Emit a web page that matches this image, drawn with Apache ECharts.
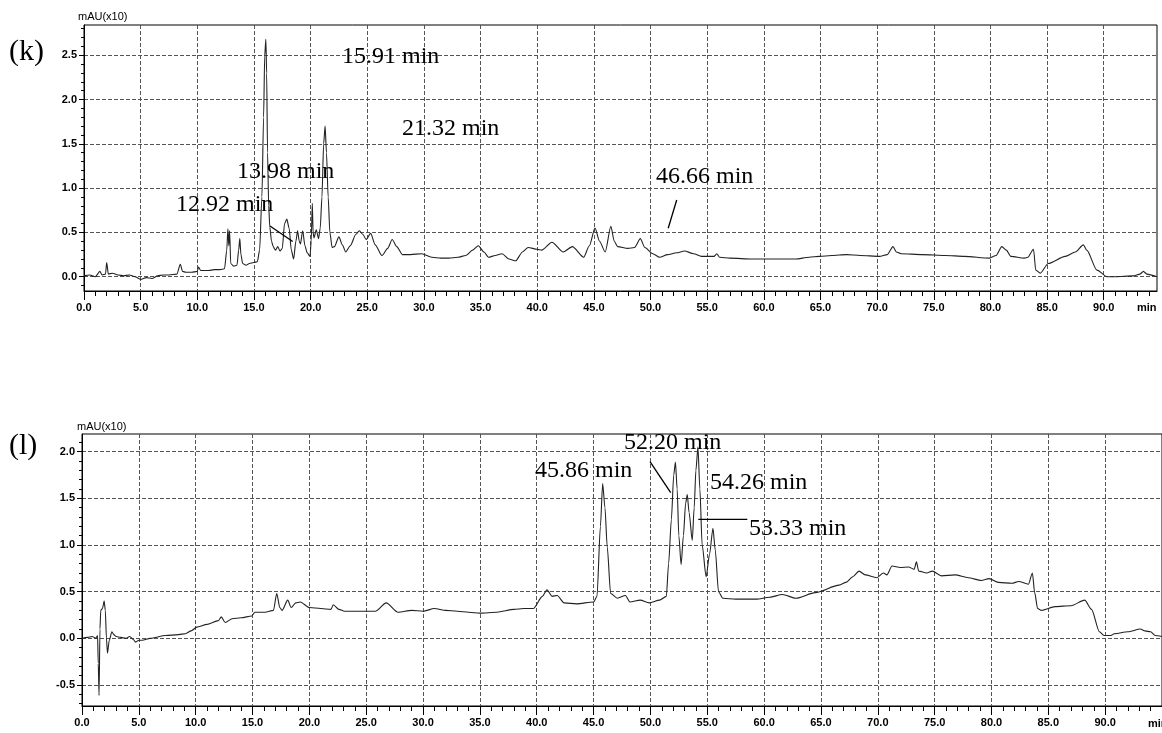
<!DOCTYPE html>
<html><head><meta charset="utf-8">
<script src="https://cdn.jsdelivr.net/npm/echarts@6/dist/echarts.min.js"></script>
<style>html,body{margin:0;padding:0;background:#fff}#c{width:1162px;height:733px}</style>
</head><body><div id="c"></div>
<script>
// ---- chromatogram (k) ----
const kTimes = [0,0.5,1.0,1.4,1.6,1.9,2.0,2.15,2.5,3.0,3.5,4.0,4.5,5.0,5.5,6.0,6.5,7.0,7.5,8.2,8.5,8.7,9.0,9.5,10.0,10.1,10.3,11.0,11.5,12.0,12.4,12.6,12.7,12.78,12.85,12.95,13.2,13.5,13.65,13.75,13.85,14.0,14.3,14.6,15.0,15.3,15.5,15.7,15.85,15.95,16.05,16.12,16.2,16.3,16.4,16.55,16.7,16.9,17.1,17.3,17.5,17.7,17.9,18.1,18.3,18.5,18.7,18.85,19.0,19.1,19.3,19.5,19.7,19.95,20.05,20.15,20.22,20.3,20.5,20.7,20.85,21.0,21.15,21.28,21.4,21.55,21.7,21.9,22.1,22.5,22.8,23.1,23.5,24.0,24.3,24.6,24.9,25.3,25.7,26.3,26.8,27.2,27.6,28.1,28.8,29.8,30.7,31.5,32.2,33.0,33.7,34.3,34.8,35.3,35.7,36.3,36.9,37.5,38.1,38.7,39.2,40.0,40.4,41.3,42.3,43.1,44.1,44.6,45.1,45.5,46.0,46.5,46.8,47.1,48.0,48.6,49.1,49.5,50.2,50.8,51.5,52.3,53.0,53.8,54.5,55.6,55.85,56.1,57.0,59.0,61.0,62.8,64.0,64.9,66.0,67.3,68.5,70.2,70.9,71.4,71.7,72.1,74.0,76.0,77.7,79.9,80.5,81.0,81.4,81.8,83.0,83.3,83.8,84.0,84.4,85.1,86.6,87.5,88.2,88.5,89.4,90.3,91.0,92.6,93.2,93.5,93.8,94.7];
const kValues = [0.01,0.02,0.0,0.06,0.02,0.03,0.16,0.03,0.04,0.02,0.01,0.02,0.0,-0.03,-0.01,-0.02,0.01,0.02,0.02,0.03,0.14,0.06,0.05,0.05,0.06,0.11,0.07,0.07,0.08,0.08,0.09,0.3,0.54,0.35,0.52,0.15,0.12,0.13,0.3,0.43,0.25,0.15,0.13,0.15,0.16,0.17,0.3,0.9,1.8,2.5,2.68,2.3,1.4,0.8,0.56,0.4,0.34,0.30,0.34,0.29,0.32,0.6,0.65,0.55,0.3,0.2,0.4,0.52,0.4,0.37,0.52,0.35,0.27,0.23,0.4,0.83,0.5,0.44,0.53,0.43,0.55,0.9,1.5,1.70,1.4,0.9,0.5,0.33,0.34,0.45,0.36,0.28,0.35,0.48,0.52,0.48,0.42,0.49,0.36,0.24,0.32,0.42,0.34,0.25,0.25,0.26,0.22,0.21,0.21,0.22,0.24,0.3,0.35,0.28,0.22,0.24,0.26,0.2,0.18,0.28,0.33,0.31,0.30,0.39,0.28,0.34,0.22,0.35,0.55,0.4,0.28,0.57,0.4,0.34,0.32,0.33,0.43,0.33,0.26,0.22,0.25,0.27,0.29,0.26,0.23,0.23,0.26,0.22,0.21,0.20,0.20,0.20,0.22,0.23,0.24,0.25,0.24,0.23,0.25,0.34,0.28,0.26,0.25,0.24,0.23,0.21,0.24,0.34,0.30,0.23,0.21,0.22,0.31,0.075,0.04,0.15,0.23,0.28,0.36,0.30,0.075,0.0,0.0,0.01,0.03,0.06,0.03,0.0];
// ---- chromatogram (l) ----
const lTimes = [0,0.5,0.9,1.2,1.37,1.43,1.5,1.58,1.65,1.8,1.95,2.05,2.15,2.24,2.4,2.63,2.8,3.0,3.4,3.85,4.2,4.5,4.72,5.0,5.3,6.0,7.35,8.5,9.1,9.6,10.1,11.0,12.0,12.25,12.6,13.2,14.0,14.94,15.2,16.1,16.84,17.13,17.4,17.6,18.1,18.4,18.8,19.2,20.0,21.0,21.9,22.1,22.6,23.1,24.0,24.9,25.8,26.76,27.8,29.0,30.0,31.0,32.0,33.0,34.0,35.0,36.5,38.0,38.85,39.7,40.5,40.9,41.35,41.8,42.4,43.5,45.0,45.3,45.6,45.8,46.0,46.2,46.5,47.1,47.8,48.2,49.1,49.9,50.8,51.4,51.6,51.84,52.05,52.2,52.35,52.5,52.7,52.9,53.1,53.24,53.4,53.68,53.85,54.0,54.18,54.35,54.55,54.9,55.2,55.5,55.7,55.99,56.37,57.5,59.3,60.5,61.6,62.8,64.5,66.6,67.2,67.8,68.35,68.9,69.9,70.5,70.8,71.25,71.98,72.7,73.2,73.4,73.6,74.3,74.8,75.6,76.8,77.96,79.1,79.8,80.6,81.8,82.4,83.25,83.6,83.8,84.06,84.4,85.6,87.0,88.2,88.8,89.5,89.9,90.5,90.8,92.0,93.1,93.5,94.0,94.4,95];
const lValues = [0.0,0.01,0.02,0.0,0.03,-0.27,-0.61,0.1,0.3,0.32,0.40,0.3,0.0,-0.16,-0.02,0.07,0.04,0.02,0.01,0.0,0.02,-0.01,-0.04,-0.02,-0.02,0.0,0.03,0.04,0.05,0.08,0.12,0.15,0.19,0.23,0.17,0.21,0.22,0.24,0.28,0.28,0.3,0.48,0.33,0.3,0.41,0.33,0.38,0.39,0.33,0.32,0.31,0.36,0.31,0.29,0.29,0.29,0.29,0.38,0.28,0.3,0.29,0.32,0.3,0.29,0.28,0.27,0.28,0.31,0.32,0.32,0.45,0.52,0.45,0.46,0.38,0.37,0.39,0.45,1.2,1.66,1.4,0.98,0.48,0.43,0.46,0.39,0.41,0.38,0.41,0.45,0.8,1.27,1.75,1.89,1.6,1.1,0.79,1.1,1.45,1.54,1.35,1.05,1.4,1.8,2.05,1.6,1.0,0.66,0.9,1.18,0.95,0.5,0.43,0.42,0.42,0.44,0.47,0.43,0.49,0.57,0.60,0.66,0.72,0.68,0.65,0.70,0.68,0.775,0.76,0.765,0.74,0.82,0.72,0.70,0.72,0.67,0.68,0.65,0.62,0.64,0.60,0.59,0.61,0.58,0.70,0.49,0.32,0.30,0.34,0.35,0.41,0.31,0.07,0.03,0.03,0.05,0.07,0.1,0.08,0.07,0.03,0.02];
// ---- tick labels ----
const xMajorTicks = [0,5,10,15,20,25,30,35,40,45,50,55,60,65,70,75,80,85,90];
const kMajorY = [0,0.5,1.0,1.5,2.0,2.5];
const lMajorY = [-0.5,0,0.5,1.0,1.5,2.0];
const yUnit = 'mAU(x10)';
const xUnit = 'min';
// annotation texts
const kPeakLabels = ['15.91 min','21.32 min','13.98 min','12.92 min','46.66 min'];
const lPeakLabels = ['52.20 min','45.86 min','54.26 min','53.33 min'];

function range(a, b, step, skipEvery) {
  const out = [];
  for (let i = Math.round(a/step); i <= Math.round(b/step); i++) {
    const v = +(i*step).toFixed(2);
    if (skipEvery && Math.abs(v/skipEvery - Math.round(v/skipEvery)) < 1e-6) continue;
    out.push(v);
  }
  return out;
}
const kMinorY = range(-0.1, 2.8, 0.1, 0.5);
const lMinorY = range(-0.7, 2.1, 0.1, 0.5);
const xMinor = range(1, 94, 1, 5);

const lab = {color:'#000', fontFamily:'Liberation Sans', fontWeight:'bold', fontSize:11};
const gridLine = {show:true, lineStyle:{color:'#555', type:[4,2], width:1}};

function xAxes(gi, max) {
  return [{
    type:'value', gridIndex:gi, min:0, max:max, interval:5, position:'bottom',
    axisLine:{show:true, onZero:false, lineStyle:{color:'#000', width:1}},
    axisTick:{show:true, length:9, customValues:xMajorTicks, lineStyle:{color:'#000'}},
    axisLabel:Object.assign({margin:11, customValues:xMajorTicks, formatter:v=>v.toFixed(1)}, lab),
    splitLine:gridLine
  },{
    type:'value', gridIndex:gi, min:0, max:max, position:'bottom',
    axisLine:{show:false, onZero:false},
    axisTick:{show:true, length:5, customValues:xMinor, lineStyle:{color:'#000'}},
    axisLabel:{show:false}, splitLine:{show:false}
  }];
}
function yAxes(gi, min, max, major, minor) {
  return [{
    type:'value', gridIndex:gi, min:min, max:max, position:'left',
    axisLine:{show:true, onZero:false, lineStyle:{color:'#000', width:1}},
    axisTick:{show:true, length:5, customValues:major, lineStyle:{color:'#000'}},
    axisLabel:Object.assign({margin:7, customValues:major, formatter:v=>v.toFixed(1)}, lab),
    splitLine:gridLine
  },{
    type:'value', gridIndex:gi, min:min, max:max, position:'left',
    axisLine:{show:false, onZero:false},
    axisTick:{show:true, length:3, customValues:minor, lineStyle:{color:'#000'}},
    axisLabel:{show:false}, splitLine:{show:false}
  }];
}

const serifBig = '30px "Liberation Serif"';
const serif = '24px "Liberation Serif"';
function txt(text, x, y, font) {
  return {type:'text', x:x, y:y, z:100, style:{text:text, font:font, fill:'#000', align:'left', verticalAlign:'middle'}};
}
function ln(x1,y1,x2,y2) {
  return {type:'line', z:100, shape:{x1,y1,x2,y2}, style:{stroke:'#000', lineWidth:1.3}};
}
const unitFont = '11px "Liberation Sans"';

const chart = echarts.init(document.getElementById('c'), null, {renderer:'canvas'});
chart.setOption({
  animation:false,
  backgroundColor:'#fff',
  grid:[
    {left:84, top:25, width:1073, height:266, show:true, borderColor:'#000', borderWidth:1, backgroundColor:'transparent'},
    {left:82, top:434, width:1085, height:272, show:true, borderColor:'#000', borderWidth:1, backgroundColor:'transparent'}
  ],
  xAxis:[].concat(xAxes(0, 94.7), xAxes(1, 95)),
  yAxis:[].concat(yAxes(0, -0.161, 2.842, kMajorY, kMinorY), yAxes(1, -0.725, 2.19, lMajorY, lMinorY)),
  series:[
    {type:'line', xAxisIndex:0, yAxisIndex:0, data:kTimes.map((t,i)=>[t,kValues[i]]), showSymbol:false, symbol:'none', sampling:null,
     smooth:0.25, smoothMonotone:'x', lineStyle:{color:'#222', width:1.1}, clip:true},
    {type:'line', xAxisIndex:2, yAxisIndex:2, data:lTimes.map((t,i)=>[t,lValues[i]]), showSymbol:false, symbol:'none', sampling:null,
     smooth:0.25, smoothMonotone:'x', lineStyle:{color:'#222', width:1.1}, clip:true}
  ],
  graphic:[
    txt('(k)', 9, 52, serifBig),
    txt('(l)', 9, 446, serifBig),
    txt(yUnit, 78, 17, unitFont),
    txt(yUnit, 77, 427, unitFont),
    txt(xUnit, 1137, 308, 'bold 11px "Liberation Sans"'),
    txt(xUnit, 1148, 724, 'bold 11px "Liberation Sans"'),
    txt(kPeakLabels[0], 342, 57, serif),
    txt(kPeakLabels[1], 402, 129, serif),
    txt(kPeakLabels[2], 237, 172, serif),
    txt(kPeakLabels[3], 176, 205, serif),
    txt(kPeakLabels[4], 656, 177, serif),
    ln(270, 226, 292.7, 241.5),
    ln(676.7, 200, 668.2, 228.3),
    txt(lPeakLabels[0], 624, 443, serif),
    txt(lPeakLabels[1], 535, 471, serif),
    txt(lPeakLabels[2], 710, 483, serif),
    txt(lPeakLabels[3], 749, 529, serif),
    ln(650, 461.7, 670.7, 492.7),
    ln(698.3, 519.3, 747.3, 519.3)
  ]
});
</script>
</body></html>
